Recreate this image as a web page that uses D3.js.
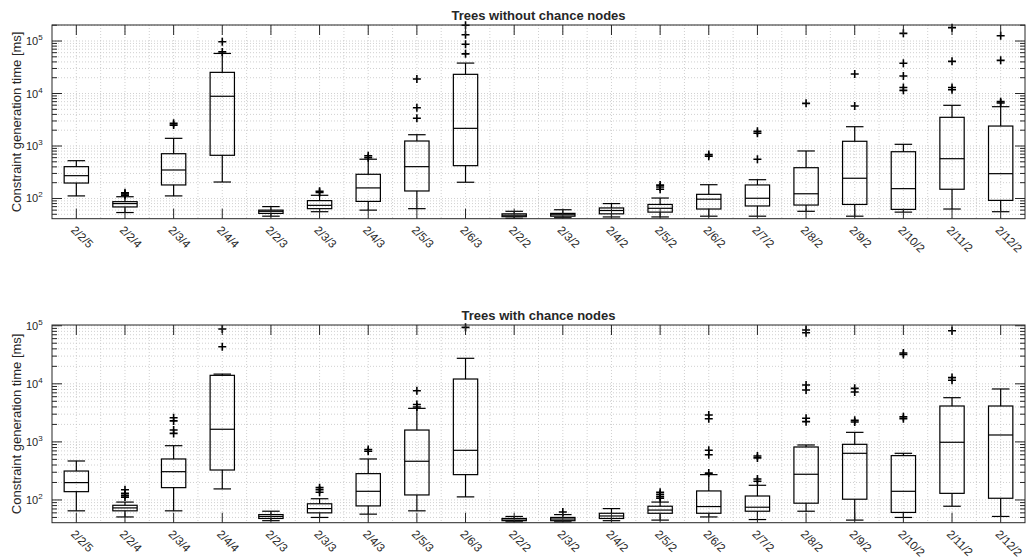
<!DOCTYPE html>
<html>
<head>
<meta charset="utf-8">
<script src="https://cdnjs.cloudflare.com/ajax/libs/d3/7.8.5/d3.min.js"></script>
<style>
  body { margin: 0; background: #fff; }
  text { font-family: "Liberation Sans", Arial, sans-serif; fill: #262626; }
</style>
</head>
<body>
<div id="chart"></div>
<script>
var categories = ["2/2/5", "2/2/4", "2/3/4", "2/4/4", "2/2/3", "2/3/3", "2/4/3", "2/5/3", "2/6/3", "2/2/2",
  "2/3/2", "2/4/2", "2/5/2", "2/6/2", "2/7/2", "2/8/2", "2/9/2", "2/10/2", "2/11/2", "2/12/2"];

// trees without chance nodes
var topLo  = [112, 54, 112, 206, 46, 56, 60, 64, 204, 42, 43, 44.5, 44.5, 46, 46, 57, 46, 55, 63, 56];
var topQ1  = [197, 69, 181, 665, 52, 64, 88, 139, 422, 45, 46, 51, 55, 63, 72, 75, 77, 62, 150, 92];
var topMed = [272, 80, 349, 8860, 57, 74, 159, 404, 2170, 48, 49, 59, 65, 97, 101, 123, 243, 154, 573, 297];
var topQ3  = [404, 87, 713, 25300, 60, 91, 289, 1245, 23200, 51, 52, 66, 77, 120, 181, 386, 1230, 778, 3520, 2400];
var topHi  = [525, 108, 1400, 58000, 70, 115, 560, 1640, 38000, 57, 61, 80, 102, 183, 228, 804, 2330, 1077, 5960, 5610];
var topOut = [[], [115, 122, 128], [2500, 2700], [62000, 97000], [], [130, 137], [600, 650], [3370, 5370, 18900],
  [57000, 87000, 132000, 200000], [], [], [], [150, 165, 180], [640, 690], [560, 1750, 1900], [6500],
  [5780, 23500], [11500, 13000, 21500, 37600, 140000], [11800, 13000, 41000, 180000], [6600, 7000, 42800, 126000]];

// trees with chance nodes
var botLo  = [65, 51, 65, 155, 44, 50, 57, 65, 113, 42, 42, 44, 45, 51, 46, 64, 45, 50, 78, 52];
var botQ1  = [139, 65, 163, 328, 48, 60, 79, 122, 273, 44, 44, 48, 59, 59, 64, 88, 103, 61, 130, 107];
var botMed = [199, 73, 307, 1650, 52, 71, 141, 464, 716, 45, 47, 53, 67, 77, 75, 277, 636, 141, 985, 1315];
var botQ3  = [315, 81, 508, 14000, 56, 86, 284, 1600, 12100, 48, 50, 59, 78, 143, 117, 817, 908, 580, 4150, 4150];
var botHi  = [469, 92, 860, 14700, 64, 105, 508, 3780, 27500, 52, 56, 71, 92, 273, 179, 885, 1460, 636, 5770, 8150];
var botOut = [[], [112, 120, 130, 150], [1400, 1600, 2300, 2600], [43500, 87700], [], [136, 150, 163], [690, 740],
  [4000, 4400, 7600], [93800], [], [62], [], [107, 114, 125, 136], [290, 600, 720, 2500, 2900], [210, 230, 530, 570],
  [2230, 2550, 7820, 9530, 75900, 84300], [2200, 2350, 7230, 8350], [2500, 2700, 32000, 34000], [11500, 12800, 82000], []];

var yTicks = [100, 1000, 10000, 100000];
var yTickExp = ["2", "3", "4", "5"];

var svgWidth = 1026;
var svgHeight = 558;
var left = 52;
var right = 1025;
var axisColor = "#262626";
var gridColor = "#c4c4c4";

var svg = d3.select("#chart")
  .append("svg")
  .attr("width", svgWidth)
  .attr("height", svgHeight);

var x = d3.scaleBand()
  .domain(categories)
  .range([left, right])
  .padding(0);

var step = x.bandwidth();
var boxW = step * 0.5;
var capW = step * 0.36;

function drawPanel(top, bottom, yDomain, title, lo, q1, med, q3, hi, out) {
  var y = d3.scaleLog()
    .domain(yDomain)
    .range([bottom, top]);

  var g = svg.append("g");

  // minor + major log values inside the domain
  var logVals = [];
  for (var e = 1; e <= 5; e++) {
    for (var m = 1; m <= 9; m++) {
      var v = m * Math.pow(10, e);
      if (v >= yDomain[0] && v <= yDomain[1]) logVals.push({ v: v, major: m === 1 });
    }
  }

  // grid
  g.selectAll(".hgrid")
    .data(logVals)
    .enter()
    .append("line")
    .attr("x1", left)
    .attr("x2", right)
    .attr("y1", d => y(d.v))
    .attr("y2", d => y(d.v))
    .attr("stroke", gridColor)
    .attr("stroke-width", 0.8)
    .attr("stroke-dasharray", "1,2");

  var vgrid = [];
  categories.forEach(function(c, i) {
    vgrid.push(x(c) + step / 2);
    if (i > 0) vgrid.push(x(c));
  });
  g.selectAll(".vgrid")
    .data(vgrid)
    .enter()
    .append("line")
    .attr("x1", d => d)
    .attr("x2", d => d)
    .attr("y1", top)
    .attr("y2", bottom)
    .attr("stroke", gridColor)
    .attr("stroke-width", 0.8)
    .attr("stroke-dasharray", "1,2");

  // boxes
  var boxes = g.selectAll(".box")
    .data(categories)
    .enter()
    .append("g")
    .attr("transform", d => `translate(${x(d) + step / 2},0)`);

  boxes.append("line")
    .attr("x1", 0).attr("x2", 0)
    .attr("y1", (d, i) => y(q3[i]))
    .attr("y2", (d, i) => y(hi[i]))
    .attr("stroke", "black")
    .attr("stroke-width", 1.2);

  boxes.append("line")
    .attr("x1", 0).attr("x2", 0)
    .attr("y1", (d, i) => y(q1[i]))
    .attr("y2", (d, i) => y(lo[i]))
    .attr("stroke", "black")
    .attr("stroke-width", 1.2);

  boxes.append("line")
    .attr("x1", -capW / 2).attr("x2", capW / 2)
    .attr("y1", (d, i) => y(hi[i]))
    .attr("y2", (d, i) => y(hi[i]))
    .attr("stroke", "black")
    .attr("stroke-width", 1.2);

  boxes.append("line")
    .attr("x1", -capW / 2).attr("x2", capW / 2)
    .attr("y1", (d, i) => y(lo[i]))
    .attr("y2", (d, i) => y(lo[i]))
    .attr("stroke", "black")
    .attr("stroke-width", 1.2);

  boxes.append("rect")
    .attr("x", -boxW / 2)
    .attr("width", boxW)
    .attr("y", (d, i) => y(q3[i]))
    .attr("height", (d, i) => y(q1[i]) - y(q3[i]))
    .attr("fill", "none")
    .attr("stroke", "black")
    .attr("stroke-width", 1.2);

  boxes.append("line")
    .attr("x1", -boxW / 2).attr("x2", boxW / 2)
    .attr("y1", (d, i) => y(med[i]))
    .attr("y2", (d, i) => y(med[i]))
    .attr("stroke", "black")
    .attr("stroke-width", 1.2);

  boxes.each(function(d, i) {
    d3.select(this).selectAll(".out")
      .data(out[i])
      .enter()
      .append("path")
      .attr("d", v => `M-4,${y(v)}h8M0,${y(v) - 4}v8`)
      .attr("stroke", "black")
      .attr("stroke-width", 1.6)
      .attr("fill", "none");
  });

  // frame
  g.append("rect")
    .attr("x", left)
    .attr("y", top)
    .attr("width", right - left)
    .attr("height", bottom - top)
    .attr("fill", "none")
    .attr("stroke", axisColor)
    .attr("stroke-width", 1);

  // x ticks, top and bottom
  var xt = categories.map(c => x(c) + step / 2);
  g.selectAll(".xtb")
    .data(xt)
    .enter()
    .append("path")
    .attr("d", d => `M${d},${bottom}v-10M${d},${top}v10`)
    .attr("stroke", axisColor)
    .attr("stroke-width", 1);

  // y ticks, left and right
  g.selectAll(".yt")
    .data(logVals)
    .enter()
    .append("path")
    .attr("d", d => {
      var len = d.major ? 10 : 5;
      return `M${left},${y(d.v)}h${len}M${right},${y(d.v)}h${-len}`;
    })
    .attr("stroke", axisColor)
    .attr("stroke-width", 1);

  // y tick labels
  var yl = g.selectAll(".ylab")
    .data(yTicks)
    .enter()
    .append("text")
    .attr("x", left - 26)
    .attr("y", d => y(d) + 4)
    .attr("font-size", "11px");
  yl.append("tspan").text("10");
  yl.append("tspan")
    .attr("dy", -5)
    .attr("font-size", "8px")
    .text((d, i) => yTickExp[i]);

  // x tick labels
  g.selectAll(".xlab")
    .data(categories)
    .enter()
    .append("text")
    .attr("transform", d => `translate(${x(d) + step / 2 - 6},${bottom + 12}) rotate(45)`)
    .attr("font-size", "11.5px")
    .attr("text-anchor", "start")
    .text(d => d);

  // title
  g.append("text")
    .attr("x", (left + right) / 2)
    .attr("y", top - 5)
    .attr("text-anchor", "middle")
    .attr("font-size", "13px")
    .attr("font-weight", "bold")
    .text(title);

  // y label
  g.append("text")
    .attr("transform", `translate(20.5, ${(top + bottom) / 2}) rotate(-90)`)
    .attr("text-anchor", "middle")
    .attr("font-size", "13px")
    .text("Constraint generation time [ms]");
}

drawPanel(25, 218.7, [41.2, 202000], "Trees without chance nodes",
  topLo, topQ1, topMed, topQ3, topHi, topOut);
drawPanel(325, 522.7, [40.6, 103000], "Trees with chance nodes",
  botLo, botQ1, botMed, botQ3, botHi, botOut);
</script>
</body>
</html>
